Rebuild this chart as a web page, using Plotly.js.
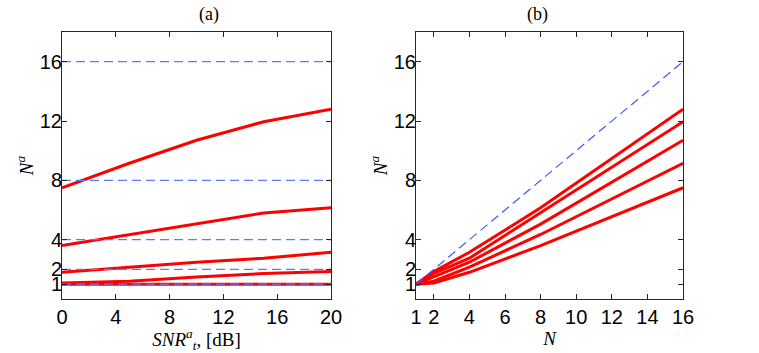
<!DOCTYPE html>
<html>
<head>
<meta charset="utf-8">
<script src="https://cdn.plot.ly/plotly-3.0.1.min.js"></script>
<style>
  html, body { margin: 0; padding: 0; background: #fff; }
  #chart { width: 759px; height: 353px; }
</style>
</head>
<body>
<div id="chart"></div>
<script>
// SNR values (dB) and number of antennas N
var snr = [0, 5, 10, 15, 20];
var nVals = [1, 2, 4, 8, 16];

// effective N^a, one array per N, over snr
var na1 = [1, 1, 1, 1, 1];
var na2 = [1.08, 1.2, 1.48, 1.72, 1.85];
var na4 = [1.8, 2.15, 2.48, 2.75, 3.15];
var na8 = [3.6, 4.35, 5.05, 5.8, 6.15];
var na16 = [7.5, 9.15, 10.7, 11.95, 12.8];
var naByN = [na1, na2, na4, na8, na16];

var yTicks = [1, 2, 4, 8, 12, 16];
var xTicksA = [0, 4, 8, 12, 16, 20];
var xTicksB = [1, 2, 4, 6, 8, 10, 12, 14, 16];

var red = 'rgb(255,0,0)';
var blue = 'rgb(95,120,255)';
var traces = [];

// (a) N^a vs SNR, one red line per N
naByN.forEach(function (vals) {
  traces.push({x: snr, y: vals, mode: 'lines', xaxis: 'x', yaxis: 'y',
    line: {color: red, width: 3}, hoverinfo: 'skip'});
});
// reference levels N^a = N
nVals.forEach(function (n) {
  traces.push({x: [snr[0], snr[snr.length - 1]], y: [n, n], mode: 'lines', xaxis: 'x', yaxis: 'y',
    line: {color: blue, width: 1.3, dash: '9px,5px'}, hoverinfo: 'skip'});
});

// (b) N^a vs N, one red line per SNR
snr.forEach(function (s, i) {
  var col = naByN.map(function (vals) { return vals[i]; });
  traces.push({x: nVals, y: col, mode: 'lines', xaxis: 'x2', yaxis: 'y2',
    line: {color: red, width: 3}, hoverinfo: 'skip'});
});
traces.push({x: [nVals[0], nVals[nVals.length - 1]], y: [nVals[0], nVals[nVals.length - 1]],
  mode: 'lines', xaxis: 'x2', yaxis: 'y2',
  line: {color: 'rgb(60,90,255)', width: 1.2, dash: '9px,5px'}, hoverinfo: 'skip'});

var tickFont = {family: 'Liberation Sans', size: 20, color: '#000'};
var serif = {family: 'Liberation Serif', size: 19, color: '#000'};

function axis(extra) {
  var a = {
    showline: true, mirror: 'ticks', linecolor: '#262626', linewidth: 1,
    ticks: 'inside', ticklen: 5, tickcolor: '#262626',
    showgrid: false, zeroline: false, tickfont: tickFont, fixedrange: true
  };
  for (var k in extra) a[k] = extra[k];
  return a;
}

var layout = {
  width: 759, height: 353,
  margin: {l: 0, r: 0, t: 32, b: 54},
  paper_bgcolor: '#fff', plot_bgcolor: '#fff',
  showlegend: false,
  xaxis: axis({domain: [0.0817, 0.4361], range: [0, 20], tickvals: xTicksA, anchor: 'y',
    title: {text: '<i>SNR</i><sup><i>a</i></sup><sub><i>t</i></sub>, [dB]', font: serif, standoff: 0}}),
  yaxis: axis({domain: [0, 1], range: [0, 18], tickvals: yTicks, anchor: 'x', ticklabelstandoff: -5,
    title: {text: '<i>N</i><sup><i>a</i></sup>', font: serif, standoff: 1}}),
  xaxis2: axis({domain: [0.5481, 0.8999], range: [1, 16], tickvals: xTicksB, anchor: 'y2',
    title: {text: '<i>N</i>', font: serif, standoff: 0}}),
  yaxis2: axis({domain: [0, 1], range: [0, 18], tickvals: yTicks, anchor: 'x2', ticklabelstandoff: -5,
    title: {text: '<i>N</i><sup><i>a</i></sup>', font: serif, standoff: 1}}),
  annotations: [
    {text: '(a)', x: 0.2589, y: 1, xref: 'paper', yref: 'paper', yanchor: 'bottom', yshift: 5,
      showarrow: false, font: {family: 'Liberation Serif', size: 18, color: '#000'}},
    {text: '(b)', x: 0.724, y: 1, xref: 'paper', yref: 'paper', yanchor: 'bottom', yshift: 5,
      showarrow: false, font: {family: 'Liberation Serif', size: 18, color: '#000'}}
  ]
};

Plotly.newPlot('chart', traces, layout, {displayModeBar: false, staticPlot: true});
</script>
</body>
</html>
